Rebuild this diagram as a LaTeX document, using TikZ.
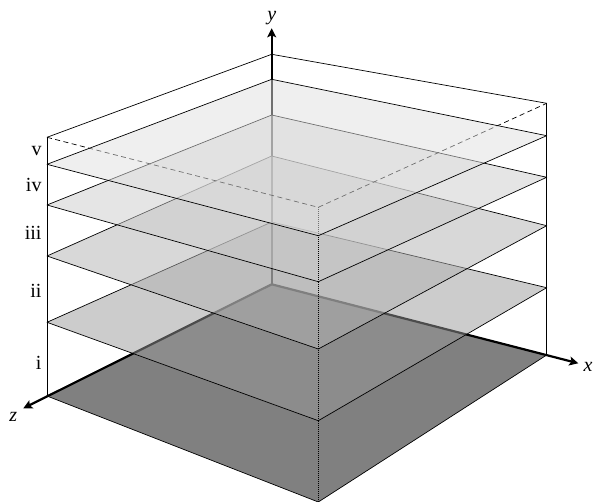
\documentclass[tikz,border=0pt]{standalone}
\usepackage{fontspec}
\setmainfont{Liberation Serif}
\usetikzlibrary{arrows.meta}
\begin{document}
\begin{tikzpicture}[x=1pt,y=-1pt,
  plane/.style={draw=black, line width=0.7pt, fill opacity=0.5, line join=round},
  axisline/.style={line width=2.2pt, -{Stealth[length=9pt,width=9pt,inset=2pt]}},
  edge/.style={line width=0.7pt},
  dashededge/.style={line width=0.7pt, dash pattern=on 5pt off 3.5pt},
  dottededge/.style={line width=0.7pt, dash pattern=on 1pt off 1pt},
  lab/.style={font=\fontsize{20}{24}\selectfont, inner sep=0pt},
  axlab/.style={font=\fontsize{20}{24}\selectfont\itshape, inner sep=0pt, anchor=base}]
\useasboundingbox (0,0) rectangle (594,502);
% corners: L left, B back, R right, F front
\coordinate (L0) at (47,396);    \coordinate (B0) at (271.7,284.3); \coordinate (R0) at (546.7,355);   \coordinate (F0) at (318.3,502);
\coordinate (L1) at (47,322.3);  \coordinate (B1) at (271.7,222);   \coordinate (R1) at (546.7,287.7); \coordinate (F1) at (318.3,420.7);
\coordinate (L2) at (47,256);    \coordinate (B2) at (271.7,156);   \coordinate (R2) at (546.7,225.7); \coordinate (F2) at (318.3,349);
\coordinate (L3) at (47,205);    \coordinate (B3) at (271.7,115);   \coordinate (R3) at (546.7,177.3); \coordinate (F3) at (318.3,281.7);
\coordinate (L4) at (47,164.3);  \coordinate (B4) at (271.7,79.3);  \coordinate (R4) at (546.7,135.7); \coordinate (F4) at (318.3,235.7);
\coordinate (L5) at (47,137.3);  \coordinate (B5) at (271.7,54.3);  \coordinate (R5) at (546.7,103.3); \coordinate (F5) at (318.3,207.3);
\coordinate (xend) at (578.3,363.3);
\coordinate (yend) at (271.7,28.3);
\coordinate (zend) at (23.3,408.3);
% bottom plane
\filldraw[draw=black, line width=0.7pt, fill=black!50] (L0) -- (B0) -- (R0) -- (F0) -- cycle;
% axes
\draw[axisline] (B0) -- (xend);
\draw[axisline] (B0) -- (zend);
\draw[axisline] (B0) -- (yend);
% layer i verticals
\draw[edge] (L0) -- (L1); \draw[edge] (R0) -- (R1); \draw[dottededge] (F0) -- (F1);
\filldraw[plane, fill=black!40] (L1) -- (B1) -- (R1) -- (F1) -- cycle;
% layer ii verticals
\draw[edge] (L1) -- (L2); \draw[edge] (R1) -- (R2); \draw[dottededge] (F1) -- (F2);
\filldraw[plane, fill=black!30] (L2) -- (B2) -- (R2) -- (F2) -- cycle;
% layer iii verticals
\draw[edge] (L2) -- (L3); \draw[edge] (R2) -- (R3); \draw[dottededge] (F2) -- (F3);
\filldraw[plane, fill=black!20] (L3) -- (B3) -- (R3) -- (F3) -- cycle;
% layer iv verticals
\draw[edge] (L3) -- (L4); \draw[edge] (R3) -- (R4); \draw[dottededge] (F3) -- (F4);
% layer v verticals and front top edges
\draw[edge] (L4) -- (L5); \draw[edge] (R4) -- (R5); \draw[dottededge] (F4) -- (F5);
\draw[dashededge] (L5) -- (F5) -- (R5);
\filldraw[plane, fill=black!12] (L4) -- (B4) -- (R4) -- (F4) -- cycle;
% back top edges
\draw[edge, line join=round] (L5) -- (B5) -- (R5);
% labels
\node[lab, anchor=base east] (lv) at (41.7,156) {v};
\node[lab, anchor=base east] (liv) at (41.7,191.7) {iv};
\node[lab, anchor=base east] (liii) at (41.7,239.3) {iii};
\node[lab, anchor=base east] (lii) at (41.7,297.3) {ii};
\node[lab, anchor=base east] (li) at (41.7,369.3) {i};
\node[axlab] (xl) at (588,371.5) {x};
\node[axlab] (yl) at (271.7,21) {y};
\node[axlab] (zl) at (13.3,421.5) {z};
\end{tikzpicture}
\end{document}
